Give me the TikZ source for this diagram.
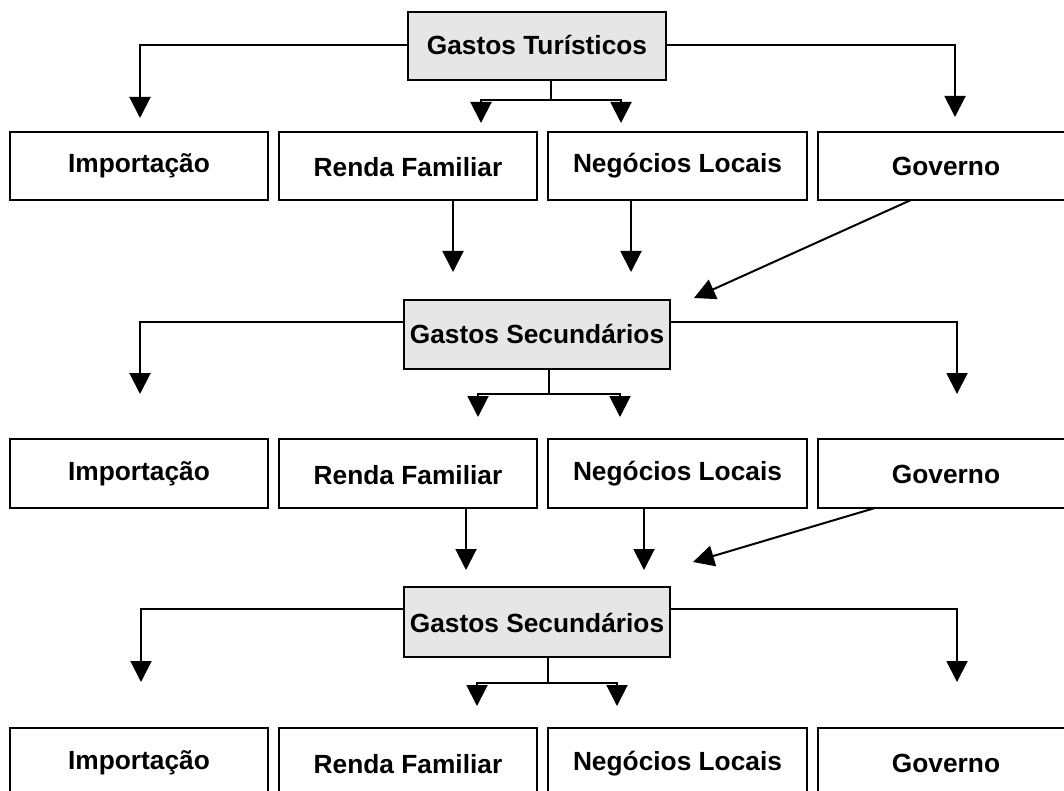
\documentclass[tikz,border=0pt]{standalone}
\usepackage{fontspec}
\setmainfont{Liberation Sans}
\usetikzlibrary{arrows.meta}
\definecolor{boxgray}{HTML}{E6E6E6}
\begin{document}
\begin{tikzpicture}[x=1pt,y=-1pt,
  box/.style={draw=black, line width=2.2pt, fill=white, inner sep=0pt, minimum height=68pt},
  mainbox/.style={box, fill=boxgray},
  lbl/.style={font=\bfseries\fontsize{26.3}{30}\selectfont, inner sep=0pt, anchor=base},
  conn/.style={line width=2pt, -{Triangle[width=21pt,length=21pt]}},
  plain/.style={line width=2pt}]
\useasboundingbox (0,0) rectangle (1064,791);
\clip (0,0) rectangle (1064,791);

% ---------- main boxes ----------
\node[mainbox, minimum width=258pt] (T) at (537,46) {};
\node[lbl] (Tt) at (537,55) {Gastos Turísticos};
\node[mainbox, minimum width=266pt, minimum height=69pt] (S1) at (537,334.5) {};
\node[lbl] (S1t) at (537,343) {Gastos Secundários};
\node[mainbox, minimum width=266pt, minimum height=70pt] (S2) at (537,622) {};
\node[lbl] (S2t) at (537,632) {Gastos Secundários};

% ---------- row 1 ----------
\node[box, minimum width=258pt] (i1) at (139,166) {};
\node[box, minimum width=258pt] (r1) at (408,166) {};
\node[box, minimum width=259pt] (n1) at (677.5,166) {};
\node[box, minimum width=256pt] (g1) at (946,166) {};
\node[lbl] (i1t) at (139,173) {Importação};
\node[lbl] (r1t) at (408,177) {Renda Familiar};
\node[lbl] (n1t) at (677.5,173) {Negócios Locais};
\node[lbl] (g1t) at (946,176) {Governo};

% ---------- row 2 ----------
\node[box, minimum width=258pt, minimum height=69pt] (i2) at (139,473.5) {};
\node[box, minimum width=258pt, minimum height=69pt] (r2) at (408,473.5) {};
\node[box, minimum width=259pt, minimum height=69pt] (n2) at (677.5,473.5) {};
\node[box, minimum width=256pt, minimum height=69pt] (g2) at (946,473.5) {};
\node[lbl] (i2t) at (139,480) {Importação};
\node[lbl] (r2t) at (408,484) {Renda Familiar};
\node[lbl] (n2t) at (677.5,480) {Negócios Locais};
\node[lbl] (g2t) at (946,483) {Governo};

% ---------- row 3 ----------
\node[box, minimum width=258pt, minimum height=69pt] (i3) at (139,762.5) {};
\node[box, minimum width=258pt, minimum height=69pt] (r3) at (408,762.5) {};
\node[box, minimum width=259pt, minimum height=69pt] (n3) at (677.5,762.5) {};
\node[box, minimum width=256pt, minimum height=69pt] (g3) at (946,762.5) {};
\node[lbl] (i3t) at (139,769) {Importação};
\node[lbl] (r3t) at (408,773) {Renda Familiar};
\node[lbl] (n3t) at (677.5,770) {Negócios Locais};
\node[lbl] (g3t) at (946,772) {Governo};

% ---------- coordinates ----------
\coordinate (tTL) at (140,118);
\coordinate (tTR) at (955,117);
\coordinate (jT) at (551,100);
\coordinate (tTa) at (481,123);
\coordinate (tTb) at (621,123);

\coordinate (tR1) at (453,272);
\coordinate (tN1) at (631,272);
\coordinate (oG1) at (911,200);
\coordinate (tG1) at (694,298);

\coordinate (tS1L) at (140,394);
\coordinate (tS1R) at (957,394);
\coordinate (jS1) at (549,394);
\coordinate (tS1a) at (478,417);
\coordinate (tS1b) at (620,417);

\coordinate (tR2) at (466,570);
\coordinate (tN2) at (644,570);
\coordinate (oG2) at (875,508);
\coordinate (tG2) at (693,562);

\coordinate (tS2L) at (141,682);
\coordinate (tS2R) at (957,682);
\coordinate (jS2) at (548,683);
\coordinate (tS2a) at (477,706);
\coordinate (tS2b) at (617,706);

% ---------- connectors: Gastos Turísticos ----------
\draw[conn] ([yshift=1pt]T.west) -| (tTL);
\draw[conn] ([yshift=1pt]T.east) -| (tTR);
\draw[plain] (T.south -| jT) -- (jT);
\draw[conn] (jT) -| (tTa);
\draw[conn] (jT) -| (tTb);

% row 1 -> S1
\draw[conn] (r1.south -| tR1) -- (tR1);
\draw[conn] (n1.south -| tN1) -- (tN1);
\draw[conn] (oG1) -- (tG1);

% ---------- connectors: S1 ----------
\draw[conn] ([yshift=12.5pt]S1.west) -| (tS1L);
\draw[conn] ([yshift=12.5pt]S1.east) -| (tS1R);
\draw[plain] (S1.south -| jS1) -- (jS1);
\draw[conn] (jS1) -| (tS1a);
\draw[conn] (jS1) -| (tS1b);

% row 2 -> S2
\draw[conn] (r2.south -| tR2) -- (tR2);
\draw[conn] (n2.south -| tN2) -- (tN2);
\draw[conn] (oG2) -- (tG2);

% ---------- connectors: S2 ----------
\draw[conn] ([yshift=13pt]S2.west) -| (tS2L);
\draw[conn] ([yshift=13pt]S2.east) -| (tS2R);
\draw[plain] (S2.south -| jS2) -- (jS2);
\draw[conn] (jS2) -| (tS2a);
\draw[conn] (jS2) -| (tS2b);
\end{tikzpicture}
\end{document}
